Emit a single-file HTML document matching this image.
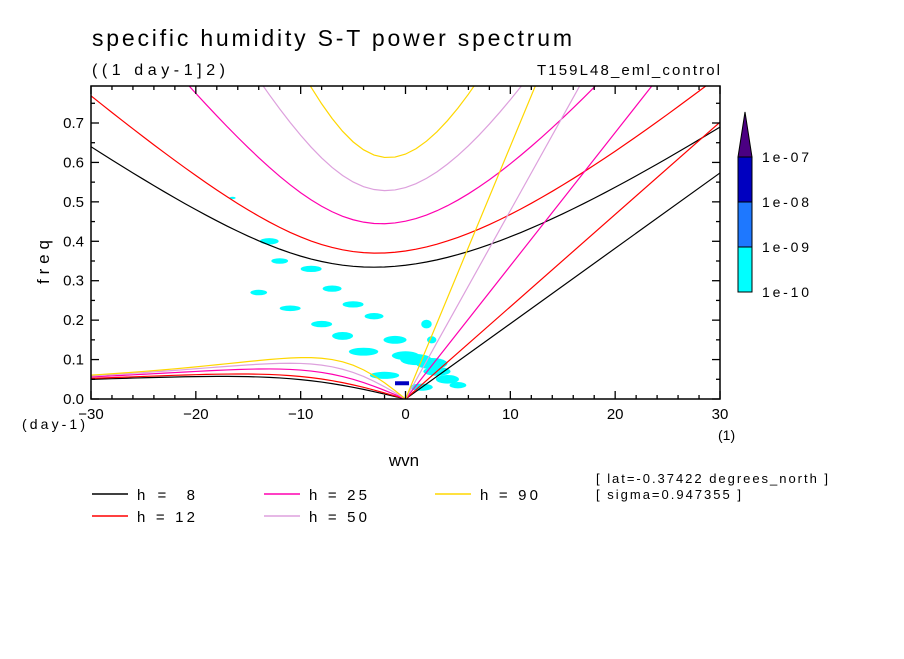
<!DOCTYPE html>
<html><head><meta charset="utf-8"><style>
body{margin:0;background:#fff;}
svg text{font-family:"Liberation Sans",sans-serif;fill:#000;}
</style></head><body>
<svg id="c" width="904" height="654" xmlns="http://www.w3.org/2000/svg">
<text x="92" y="46" font-size="23" textLength="480" lengthAdjust="spacing">specific humidity S-T power spectrum</text>
<text x="92" y="75" font-size="16" textLength="133" lengthAdjust="spacing">((1 day-1]2)</text>
<text x="537" y="75" font-size="15" textLength="183" lengthAdjust="spacing">T159L48_eml_control</text>
<g id="blobs"></g>
<g id="curves"></g>
<g id="axes"></g>
<text x="22" y="429" font-size="14" textLength="63" lengthAdjust="spacing">(day-1)</text>
<text x="718" y="440" font-size="14">(1)</text>
<text x="404" y="466" font-size="17" text-anchor="middle">wvn</text>
<text transform="translate(49,262) rotate(-90)" font-size="17" text-anchor="middle" textLength="44" lengthAdjust="spacing">freq</text>
<g id="cbar"></g>
<g id="legend"></g>
<text x="596" y="483" font-size="13" textLength="232" lengthAdjust="spacing">[ lat=-0.37422 degrees_north ]</text>
<text x="596" y="499" font-size="13" textLength="145" lengthAdjust="spacing">[ sigma=0.947355 ]</text>
</svg>
<script>
const depths=[8,12,25,50,90];
const depthColors=["#000000","#ff0000","#ff00b0","#dda0dd","#ffd700"];
const xTicks=[-30,-20,-10,0,10,20,30];
const yTicks=[0,0.1,0.2,0.3,0.4,0.5,0.6,0.7];
const cbarLabels=["1e-07","1e-08","1e-09","1e-10"];
const cbarColors=["#4b0082","#0000c0","#1e78ff","#00ffff"];
// cyan blob patches: [wvn, freq, halfwidth(wvn), halfheight(freq)]
const blobWvn=[-16.5,-13,-12,-9,-14,-7,-11,-5,-8,-3,-6,-1,-4,0,1,2.5,3,4,-2,1.5,5,2,2.5];
const blobFreq=[0.51,0.40,0.35,0.33,0.27,0.28,0.23,0.24,0.19,0.21,0.16,0.15,0.12,0.11,0.10,0.09,0.07,0.05,0.06,0.03,0.035,0.19,0.15];
const blobW=[0.3,0.9,0.8,1.0,0.8,0.9,1.0,1.0,1.0,0.9,1.0,1.1,1.4,1.3,1.5,1.5,1.3,1.1,1.4,1.1,0.8,0.5,0.45];
const blobH=[0.003,0.008,0.007,0.008,0.007,0.008,0.007,0.008,0.008,0.008,0.01,0.01,0.01,0.011,0.014,0.014,0.011,0.011,0.009,0.009,0.008,0.011,0.009];

const NS="http://www.w3.org/2000/svg";
const L=91,R=720,T=86,B=399;
const X=v=>L+(v+30)/60*(R-L);
const Y=v=>B-v/0.7*(B-123);
function el(t,a,p){const e=document.createElementNS(NS,t);for(const k in a)e.setAttribute(k,a[k]);p.appendChild(e);return e;}

const bg=document.getElementById('blobs');
blobWvn.forEach((w,i)=>{
  const e=el('ellipse',{cx:X(w),cy:Y(blobFreq[i]),rx:blobW[i]*(R-L)/60,ry:blobH[i]*394,fill:'#00ffff'},bg);
  
  
});
const d1=el('rect',{x:X(-1),y:Y(0.045),width:14,height:4,fill:'#0000c0'},bg);



const g=9.8,beta=2.29e-11,Re=6.371e6,toCpd=86400/(2*Math.PI);
function roots(k,c){
  const p=-(k*k*c*c+3*beta*c),q=-beta*k*c*c;
  const m=2*Math.sqrt(-p/3),th=Math.acos(3*q/(p*m))/3;
  return [0,1,2].map(j=>m*Math.cos(th-2*Math.PI*j/3));
}
const cg=document.getElementById('curves');
const clip=el('clipPath',{id:'cp'},el('defs',{},cg));
el('rect',{x:L,y:T,width:R-L,height:B-T},clip);
const cgi=el('g',{'clip-path':'url(#cp)'},cg);
depths.forEach((h,i)=>{
  const c=Math.sqrt(g*h);
  let ig=[],ros=[];
  for(let s=-30;s<=30;s+=1){
    const k=s/Re,r=roots(k,c).sort((a,b)=>a-b);
    ig.push([X(s),Y(r[2]*toCpd)]);
    if(s<=0){const w=s===0?0:r[1];ros.push([X(s),Y(Math.abs(w)*toCpd)]);}
  }
  const kel=[[X(0),Y(0)],[X(30),Y(30/Re*c*toCpd)]];
  [[ig,'ig-curve'],[ros,'rossby-curve'],[kel,'kelvin-line']].forEach(([pts,n])=>{
    const e=el('polyline',{points:pts.map(p=>p.join(',')).join(' '),fill:'none',stroke:depthColors[i],'stroke-width':1.2},cgi);
    
    
  });
});

const ax=document.getElementById('axes');
el('rect',{x:L,y:T,width:R-L,height:B-T,fill:'none',stroke:'#000','stroke-width':1.5},ax);
for(let v=-30;v<=30;v+=2){const maj=v%10===0,len=maj?8:4;
  el('line',{x1:X(v),y1:B,x2:X(v),y2:B-len,stroke:'#000','stroke-width':1.3},ax);
  el('line',{x1:X(v),y1:T,x2:X(v),y2:T+len,stroke:'#000','stroke-width':1.3},ax);}
for(let i=0;i<=15;i++){const v=i*0.05,maj=i%2===0,len=maj?8:4;
  el('line',{x1:L,y1:Y(v),x2:L+len,y2:Y(v),stroke:'#000','stroke-width':1.3},ax);
  el('line',{x1:R,y1:Y(v),x2:R-len,y2:Y(v),stroke:'#000','stroke-width':1.3},ax);}
xTicks.forEach(v=>{const t=el('text',{x:X(v),y:419,'font-size':15,'text-anchor':'middle'},ax);t.textContent=v<0?'\u2212'+(-v):v;
  
  });
yTicks.forEach(v=>{const t=el('text',{x:84,y:Y(v)+5,'font-size':15,'text-anchor':'end'},ax);t.textContent=v.toFixed(1);
  
  });

const cb=document.getElementById('cbar');
el('polygon',{points:'745,112 738,157 752,157',fill:cbarColors[0],stroke:'#000'},cb);
for(let i=1;i<4;i++) el('rect',{x:738,y:157+(i-1)*45,width:14,height:45,fill:cbarColors[i],stroke:'#000'},cb);
cbarLabels.forEach((s,i)=>{const t=el('text',{x:762,y:162+i*45,'font-size':14,textLength:47,lengthAdjust:'spacing'},cb);t.textContent=s;
  
  });

const lg=document.getElementById('legend');
const pos=[[92,494],[92,516],[264,494],[264,516],[435,494]];
depths.forEach((h,i)=>{const [x,y]=pos[i];
  el('line',{x1:x,y1:y,x2:x+36,y2:y,stroke:depthColors[i],'stroke-width':1.5},lg);
  const t=el('text',{x:x+45,y:y+6,'font-size':15,textLength:58,lengthAdjust:'spacing'},lg);t.textContent='h = '+(h<10?'\u00a0':'')+h;
  
  });
</script>
</body></html>
